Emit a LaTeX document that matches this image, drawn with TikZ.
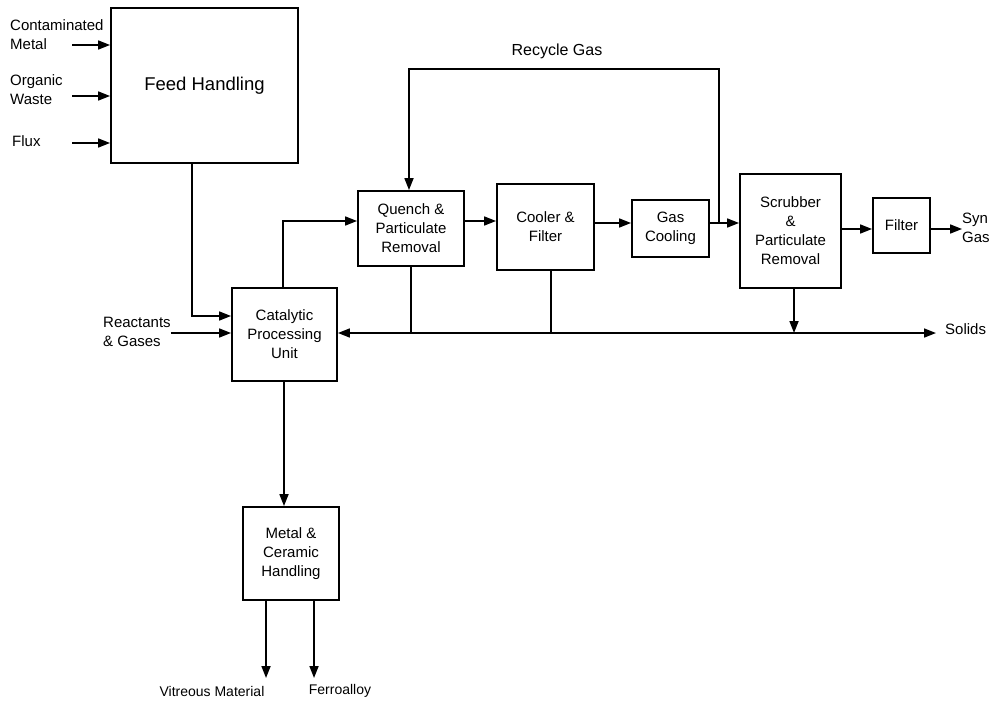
\documentclass[tikz,border=0pt]{standalone}
\usepackage{fontspec}
\setmainfont{Liberation Sans}
\usetikzlibrary{arrows.meta,calc}
\begin{document}
\begin{tikzpicture}[x=1pt,y=-1pt,
  unitbox/.style={draw,line width=1.8pt,inner sep=0pt,align=center,
    font=\fontsize{15}{19}\selectfont},
  lbl/.style={inner sep=0pt,align=left,font=\fontsize{15}{19}\selectfont},
  flow/.style={line width=1.7pt,-{Triangle[length=12pt,width=9pt]}},
  pipe/.style={line width=1.7pt}]
\useasboundingbox (0,0) rectangle (999,706);

% process units
\node[unitbox,minimum width=187pt,minimum height=155pt,
  font=\fontsize{18.5}{22}\selectfont] (feed) at (204.5,85.5) {Feed Handling};
\node[unitbox,minimum width=105pt,minimum height=93pt] (cat) at (284.5,334.5)
  {Catalytic\\Processing\\Unit};
\node[unitbox,minimum width=106pt,minimum height=75pt] (quench) at (411,228.5)
  {Quench \&\\Particulate\\Removal};
\node[unitbox,minimum width=97pt,minimum height=86pt] (cooler) at (545.5,227)
  {Cooler \&\\Filter};
\node[unitbox,minimum width=77pt,minimum height=57pt] (gascool) at (670.5,228.5)
  {Gas\\Cooling};
\node[unitbox,minimum width=101pt,minimum height=114pt] (scrub) at (790.5,231)
  {Scrubber\\\&\\Particulate\\Removal};
\node[unitbox,minimum width=57pt,minimum height=55pt] (filter) at (901.5,225.5)
  {Filter};
\node[unitbox,minimum width=96pt,minimum height=93pt] (metal) at (291,553.5)
  {Metal \&\\Ceramic\\Handling};

% stream labels
\node[lbl,anchor=west] (cmetal) at (10,35) {Contaminated\\Metal};
\node[lbl,anchor=west] (orgw) at (10,90) {Organic\\Waste};
\node[lbl,anchor=west] (flux) at (12,141) {Flux};
\node[lbl,anchor=west] (react) at (103,332) {Reactants\\\& Gases};
\node[lbl,font=\fontsize{16}{19}\selectfont] (recyc) at (557,51) {Recycle Gas};
\node[lbl,anchor=west] (syn) at (962,228) {Syn\\Gas};
\node[lbl,anchor=west] (solids) at (945,329) {Solids};
\node[lbl,font=\fontsize{14}{17}\selectfont] (vit) at (212,691) {Vitreous Material};
\node[lbl,font=\fontsize{14}{17}\selectfont] (ferro) at (340,691) {Ferroalloy};

% free ends and junctions
\coordinate (in1) at (72,45);
\coordinate (in2) at (72,96);
\coordinate (in3) at (72,143);
\coordinate (rj) at (719,223);
\coordinate (qj) at (411,333);
\coordinate (cj) at (551,333);
\coordinate (vout) at (266,678);
\coordinate (fout) at (314,678);

% feeds into feed handling
\draw[flow] (in1) -- (in1 -| feed.west);
\draw[flow] (in2) -- (in2 -| feed.west);
\draw[flow] (in3) -- (in3 -| feed.west);

% feed handling and reactants into the catalytic unit
\draw[flow] ([xshift=-12.5pt]feed.south) |- ([yshift=18.5pt]cat.west);
\draw[flow] (react.east |- 0,333) -- ([yshift=1.5pt]cat.west);

% main gas train
\draw[flow] ([xshift=-1.5pt]cat.north) |- ([yshift=7.5pt]quench.west);
\draw[flow] ([yshift=7.5pt]quench.east) -- ([yshift=7.5pt]quench.east -| cooler.west);
\draw[flow] ([yshift=4pt]cooler.east) -- ([yshift=4pt]cooler.east -| gascool.west);
\draw[flow] (gascool.east |- rj) -- (rj -| scrub.west);
\draw[flow] ([yshift=2pt]scrub.east) -- ([yshift=2pt]scrub.east -| filter.west);
\draw[flow] ([yshift=-3.5pt]filter.east) -- ([yshift=-3.5pt]filter.east -| syn.west);

% recycle loop
\draw[flow] (rj) -- (rj |- 0,69) -| ([xshift=-2pt]quench.north);

% solids collection line
\draw[pipe] (quench.south) -- (qj);
\draw[pipe] ([xshift=5.5pt]cooler.south) -- (cj);
\draw[flow] (cj) -- (cj -| cat.east);
\draw[flow] (cj) -- (cj -| 936,0);
\draw[flow] ([xshift=3.5pt]scrub.south) -- ([xshift=3.5pt]scrub.south |- cj);

% metal and ceramic handling
\draw[flow] ([xshift=-0.5pt]cat.south) -- ([xshift=-0.5pt]cat.south |- metal.north);
\draw[flow] (metal.south -| vout) -- (vout);
\draw[flow] (metal.south -| fout) -- (fout);
\end{tikzpicture}
\end{document}
